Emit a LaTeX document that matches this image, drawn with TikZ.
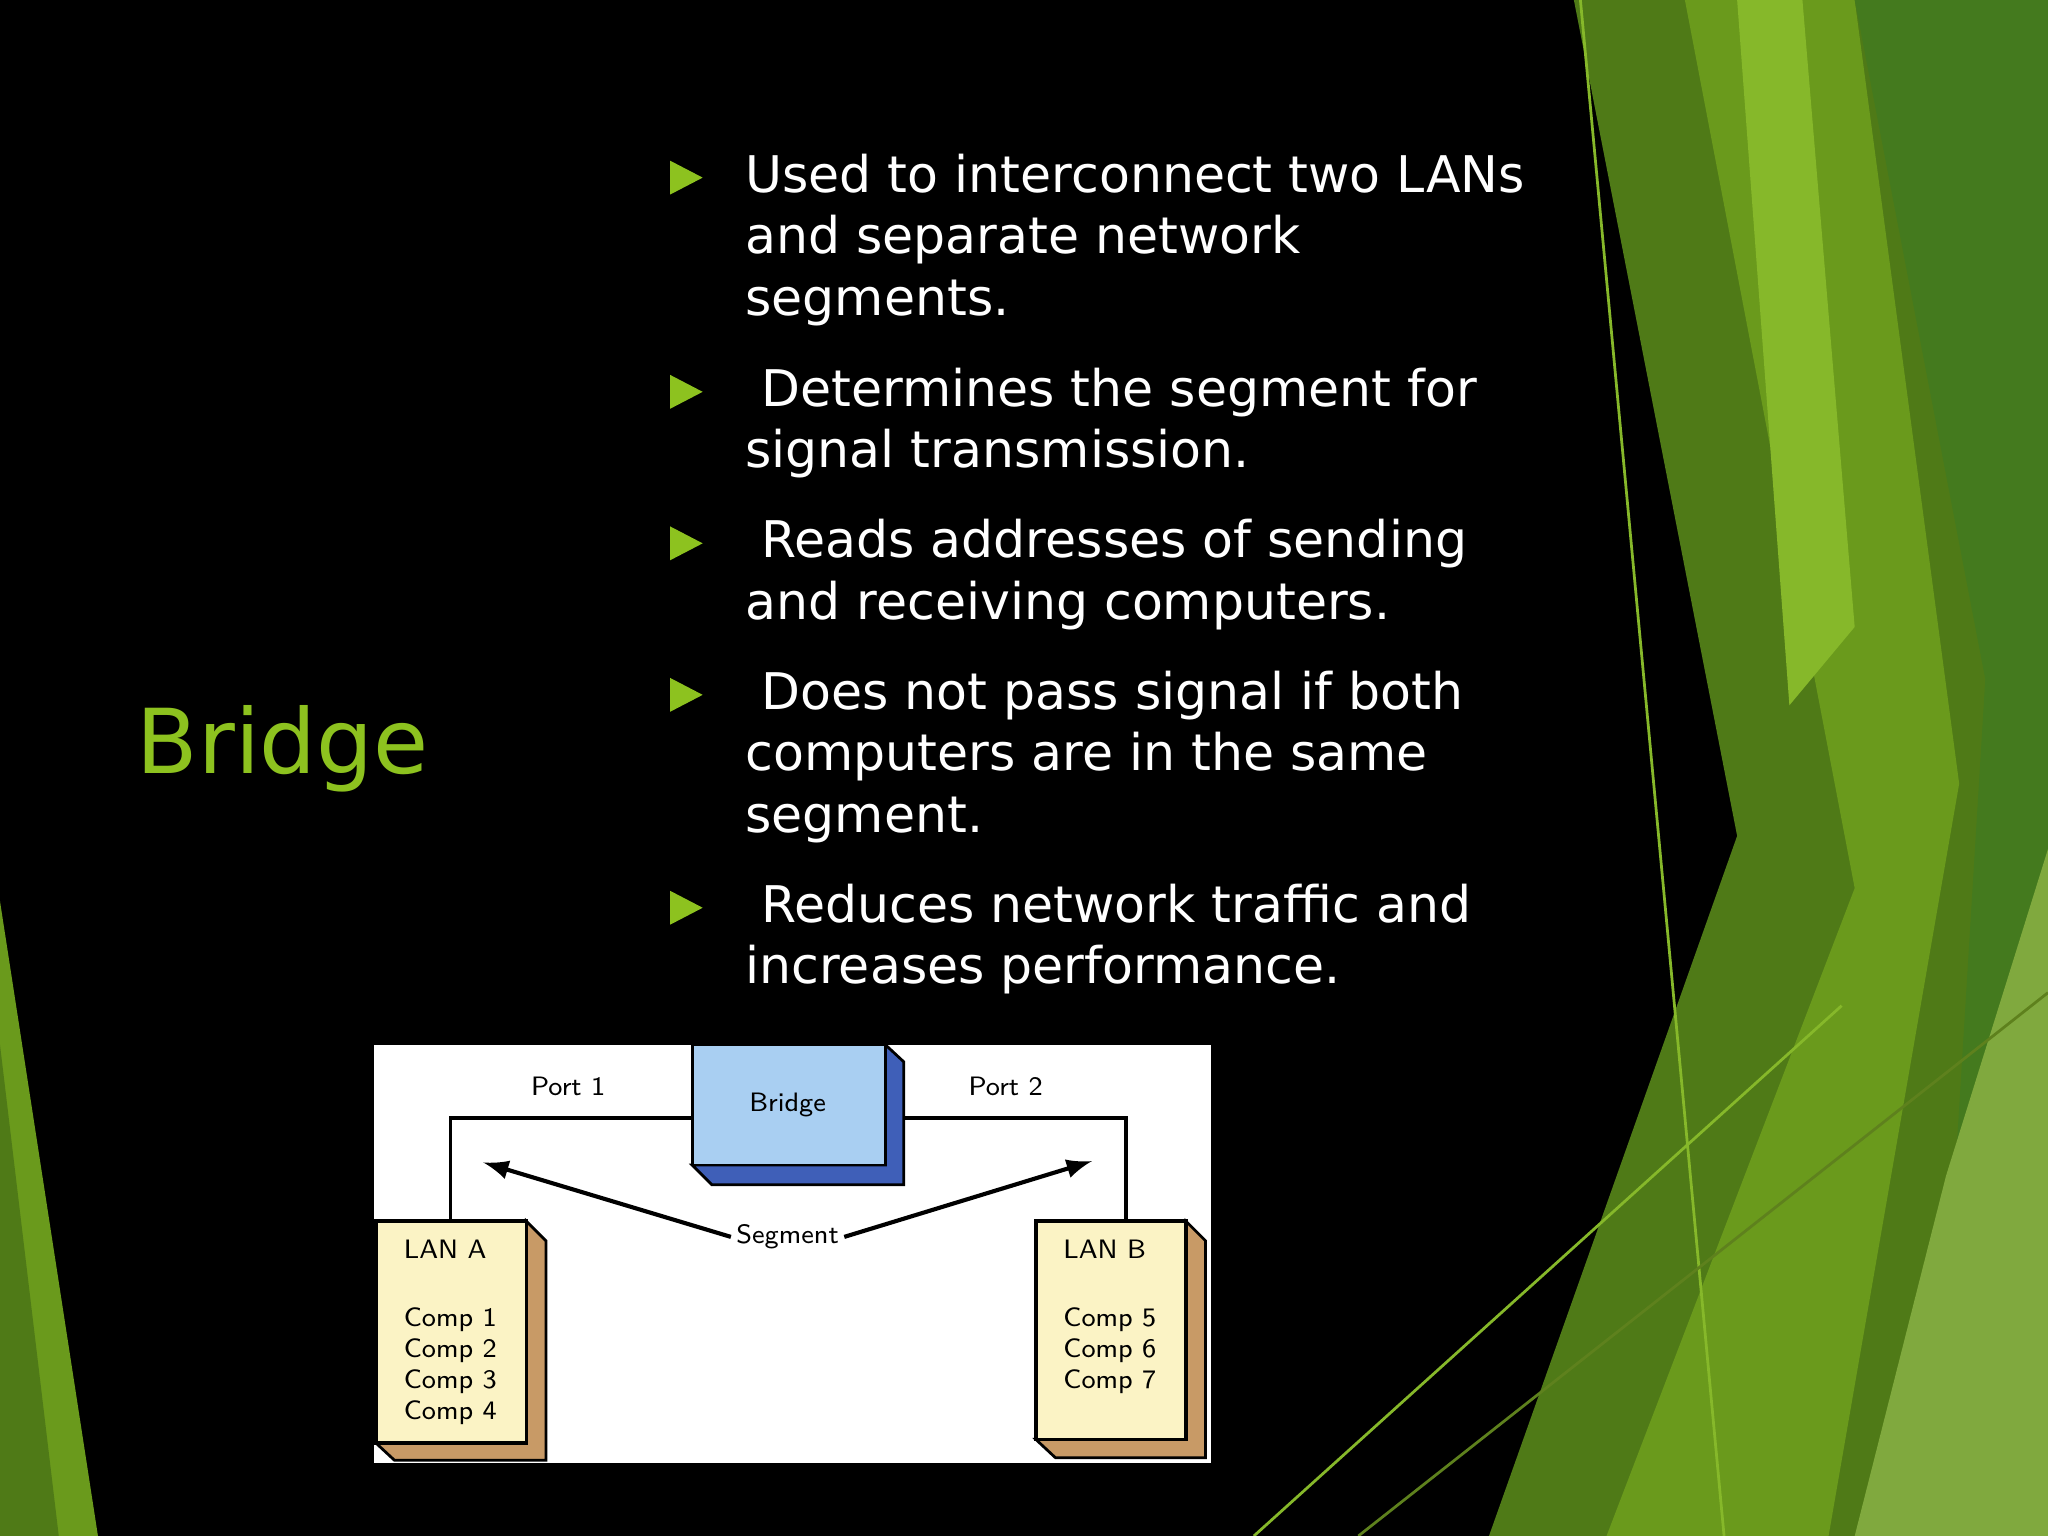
\documentclass[tikz,border=0pt]{standalone}
\usepackage{fontspec}
\setmainfont{DejaVu Sans}
\begin{document}
\begin{tikzpicture}[x=0.01cm,y=-0.01cm,
 txt/.style={anchor=north west,inner sep=0,font=\fontsize{11pt}{13.4pt}\selectfont,text=white,align=left},
 dlab/.style={font=\sffamily\fontsize{5.8pt}{6.8pt}\selectfont,inner sep=1pt},
 lan/.style={fill=cream,draw=black,line width=0.8pt}]
\definecolor{bulg}{HTML}{8DC21F}
\definecolor{g1}{HTML}{4F7A17}
\definecolor{g2}{HTML}{6A9A1C}
\definecolor{g3}{HTML}{447A1E}
\definecolor{g4}{HTML}{86B82A}
\definecolor{cream}{HTML}{FBF3C5}
\definecolor{tan}{HTML}{C89A66}
\definecolor{lblue}{HTML}{A9CFF2}
\definecolor{dblue}{HTML}{3F5FB8}
\useasboundingbox (0,0) rectangle (1568,1176);
\fill[black] (0,0) rectangle (1568,1176);
% right green layers
\fill[g1] (1205,0) -- (1568,0) -- (1568,1176) -- (1140,1176) -- (1330,640) -- cycle;
\fill[g2] (1290,0) -- (1420,0) -- (1500,600) -- (1400,1176) -- (1230,1176) -- (1420,680) -- cycle;
\fill[g3] (1420,0) -- (1568,0) -- (1568,1176) -- (1480,1176) -- (1520,520) -- cycle;
\fill[g4] (1330,0) -- (1380,0) -- (1420,480) -- (1370,540) -- cycle;
\fill[g2!85!white] (1490,900) -- (1568,650) -- (1568,1176) -- (1420,1176) -- cycle;
\draw[g4,line width=0.6pt] (1210,0) -- (1320,1176);
\draw[g4,line width=0.6pt] (960,1176) -- (1410,770);
\draw[g4!70!black,line width=0.6pt] (1040,1176) -- (1568,760);
% left bottom green
\fill[g2] (0,690) -- (75,1176) -- (0,1176) -- cycle;
\fill[g1] (0,800) -- (45,1176) -- (0,1176) -- cycle;
% title
\node[anchor=west,inner sep=0,text=bulg,font=\fontsize{19.5pt}{24pt}\selectfont] (title) at (104,573) {Bridge};
% bullets
\foreach \y in {136,300,416,532,695}{\fill[bulg] (513,\y-13) -- (538,\y) -- (513,\y+13) -- cycle;}
\node[txt] (b1) at (570,117) {Used to interconnect two LANs\\and separate network\\segments.};
\node[txt] (b2) at (570,281) {\ Determines the segment for\\signal transmission.};
\node[txt] (b3) at (570,397) {\ Reads addresses of sending\\and receiving computers.};
\node[txt] (b4) at (570,513) {\ Does not pass signal if both\\computers are in the same\\segment.};
\node[txt] (b5) at (570,676) {\ Reduces network traffic and\\increases performance.};
% diagram
\fill[white] (286,800) rectangle (927,1120);
\draw[line width=0.8pt] (345,935) -- (345,856) -- (530,856);
\draw[line width=0.8pt] (692,856) -- (862,856) -- (862,935);
\fill[dblue,draw=black,line width=0.6pt] (530,892) -- (545,907) -- (692,907) -- (692,813) -- (678,800) -- (678,892) -- cycle;
\fill[lblue,draw=black,line width=0.6pt] (530,800) rectangle (678,892);
\node[dlab] (br) at (603,846) {Bridge};
\node[dlab] (p1) at (435,832) {Port 1};
\node[dlab] (p2) at (770,832) {Port 2};
\node[dlab] (seg) at (603,947) {Segment};
\coordinate (aL) at (370,890);
\coordinate (aR) at (836,889);
\draw[-latex,line width=0.9pt] (seg.west) -- (aL);
\draw[-latex,line width=0.9pt] (seg.east) -- (aR);
% LAN A
\fill[tan,draw=black,line width=0.6pt] (403,935) -- (418,950) -- (418,1118) -- (302,1118) -- (288,1105) -- (403,1105) -- cycle;
\fill[lan] (288,935) rectangle (403,1105);
\node[dlab,anchor=north west,align=left] (lana) at (305,945) {LAN A\\[8pt]Comp 1\\Comp 2\\Comp 3\\Comp 4};
% LAN B
\fill[tan,draw=black,line width=0.6pt] (908,935) -- (923,950) -- (923,1116) -- (808,1116) -- (793,1102) -- (908,1102) -- cycle;
\fill[lan] (793,935) rectangle (908,1102);
\node[dlab,anchor=north west,align=left] (lanb) at (810,945) {LAN B\\[8pt]Comp 5\\Comp 6\\Comp 7};
\end{tikzpicture}
\end{document}
